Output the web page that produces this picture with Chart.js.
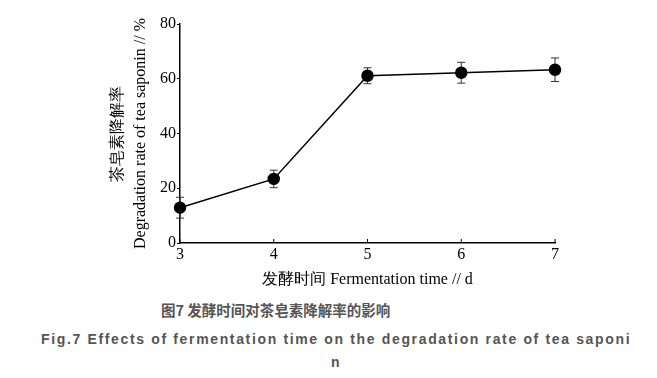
<!DOCTYPE html>
<html>
<head>
<meta charset="utf-8">
<script src="https://cdn.jsdelivr.net/npm/chart.js@4/dist/chart.umd.min.js"></script>
<style>
  body { margin: 0; background: #fff; }
  #wrap { position: relative; width: 657px; height: 378px; background: #fff; }
  #box { position: absolute; left: 0; top: 0; width: 657px; height: 292px; }
  .cap { position: absolute; white-space: nowrap; color: #555; font-weight: bold; }
  #cap1 { left: 161px; top: 301px; font: bold 14.5px "Noto Sans CJK SC", sans-serif; line-height: 18px; color: #555; }
  #cap2 { left: 41px; top: 330px; font: bold 14px "Liberation Sans", Arial, sans-serif; line-height: 18px; letter-spacing: 1.65px; color: #555; }
  #cap3 { left: 331px; top: 353px; font: bold 14px "Liberation Sans", Arial, sans-serif; line-height: 18px; color: #555; }
</style>
</head>
<body>
<div id="wrap">
  <div id="box"><canvas id="c"></canvas></div>
  <div class="cap" id="cap1">图7 发酵时间对茶皂素降解率的影响</div>
  <div class="cap" id="cap2">Fig.7 Effects of fermentation time on the degradation rate of tea saponi</div>
  <div class="cap" id="cap3">n</div>
</div>
<script>
// ── Fermentation time vs degradation rate ──
const days = [3, 4, 5, 6, 7];
const rate = [12.9, 23.4, 61.1, 62.2, 63.3];
const err = [3.8, 3.2, 2.9, 3.8, 4.3];
const yTicks = [0, 20, 40, 60, 80];

const serif = "'Liberation Serif', 'Times New Roman', serif";

// error bars behind the points
const errorBars = {
  id: 'errorBars',
  beforeDatasetsDraw(chart) {
    const { ctx, scales: { x, y } } = chart;
    ctx.save();
    ctx.strokeStyle = '#333';
    ctx.lineWidth = 1;
    days.forEach((d, i) => {
      const px = x.getPixelForValue(d);
      const top = y.getPixelForValue(rate[i] + err[i]);
      const bot = y.getPixelForValue(rate[i] - err[i]);
      ctx.beginPath();
      ctx.moveTo(px, top); ctx.lineTo(px, bot);
      ctx.moveTo(px - 4, top); ctx.lineTo(px + 4, top);
      ctx.moveTo(px - 4, bot); ctx.lineTo(px + 4, bot);
      ctx.stroke();
    });
    ctx.restore();
  }
};

// inward tick marks on the x axis
const xInTicks = {
  id: 'xInTicks',
  afterDraw(chart) {
    const { ctx, scales: { x, y } } = chart;
    const base = y.getPixelForValue(0);
    ctx.save();
    ctx.strokeStyle = '#000';
    ctx.lineWidth = 1;
    days.forEach(d => {
      const px = x.getPixelForValue(d);
      ctx.beginPath();
      ctx.moveTo(px, base); ctx.lineTo(px, base - 4);
      ctx.stroke();
    });
    ctx.restore();
  }
};

new Chart(document.getElementById('c').getContext('2d'), {
  type: 'line',
  data: {
    datasets: [{
      data: days.map((d, i) => ({ x: d, y: rate[i] })),
      borderColor: '#000',
      borderWidth: 1.5,
      pointRadius: 5.5,
      pointBackgroundColor: '#000',
      pointBorderColor: '#000',
      tension: 0,
      clip: false
    }]
  },
  options: {
    responsive: true,
    maintainAspectRatio: false,
    animation: false,
    layout: { padding: { left: 0, right: 102, top: 24, bottom: 0 } },
    plugins: { legend: { display: false }, tooltip: { enabled: false } },
    scales: {
      x: {
        type: 'linear', min: 3, max: 7,
        afterBuildTicks: s => { s.ticks = days.map(v => ({ value: v })); },
        afterFit: s => { s.height = 49; },
        grid: { display: true, drawOnChartArea: false, drawTicks: false },
        border: { color: '#000', width: 1.5 },
        ticks: { padding: 2, color: '#000', font: { family: serif, size: 16 } },
        title: { display: true, text: '发酵时间 Fermentation time // d', color: '#000',
                 font: { family: serif, size: 16 }, padding: { top: 0, bottom: 3 } }
      },
      y: {
        min: 0, max: 80,
        afterBuildTicks: s => { s.ticks = yTicks.map(v => ({ value: v })); },
        afterFit: s => { s.width = 180; },
        grid: { drawOnChartArea: false, drawTicks: true, tickLength: 3, color: '#000' },
        border: { color: '#000', width: 1.5 },
        ticks: { padding: 1, color: '#000', font: { family: serif, size: 16 } },
        title: { display: true, text: ['茶皂素降解率', 'Degradation rate of tea saponin // %'], color: '#000',
                 font: { family: serif, size: 16, lineHeight: 1.4 }, padding: { top: 107, bottom: 0 } }
      }
    }
  },
  plugins: [errorBars, xInTicks]
});
</script>
</body>
</html>
